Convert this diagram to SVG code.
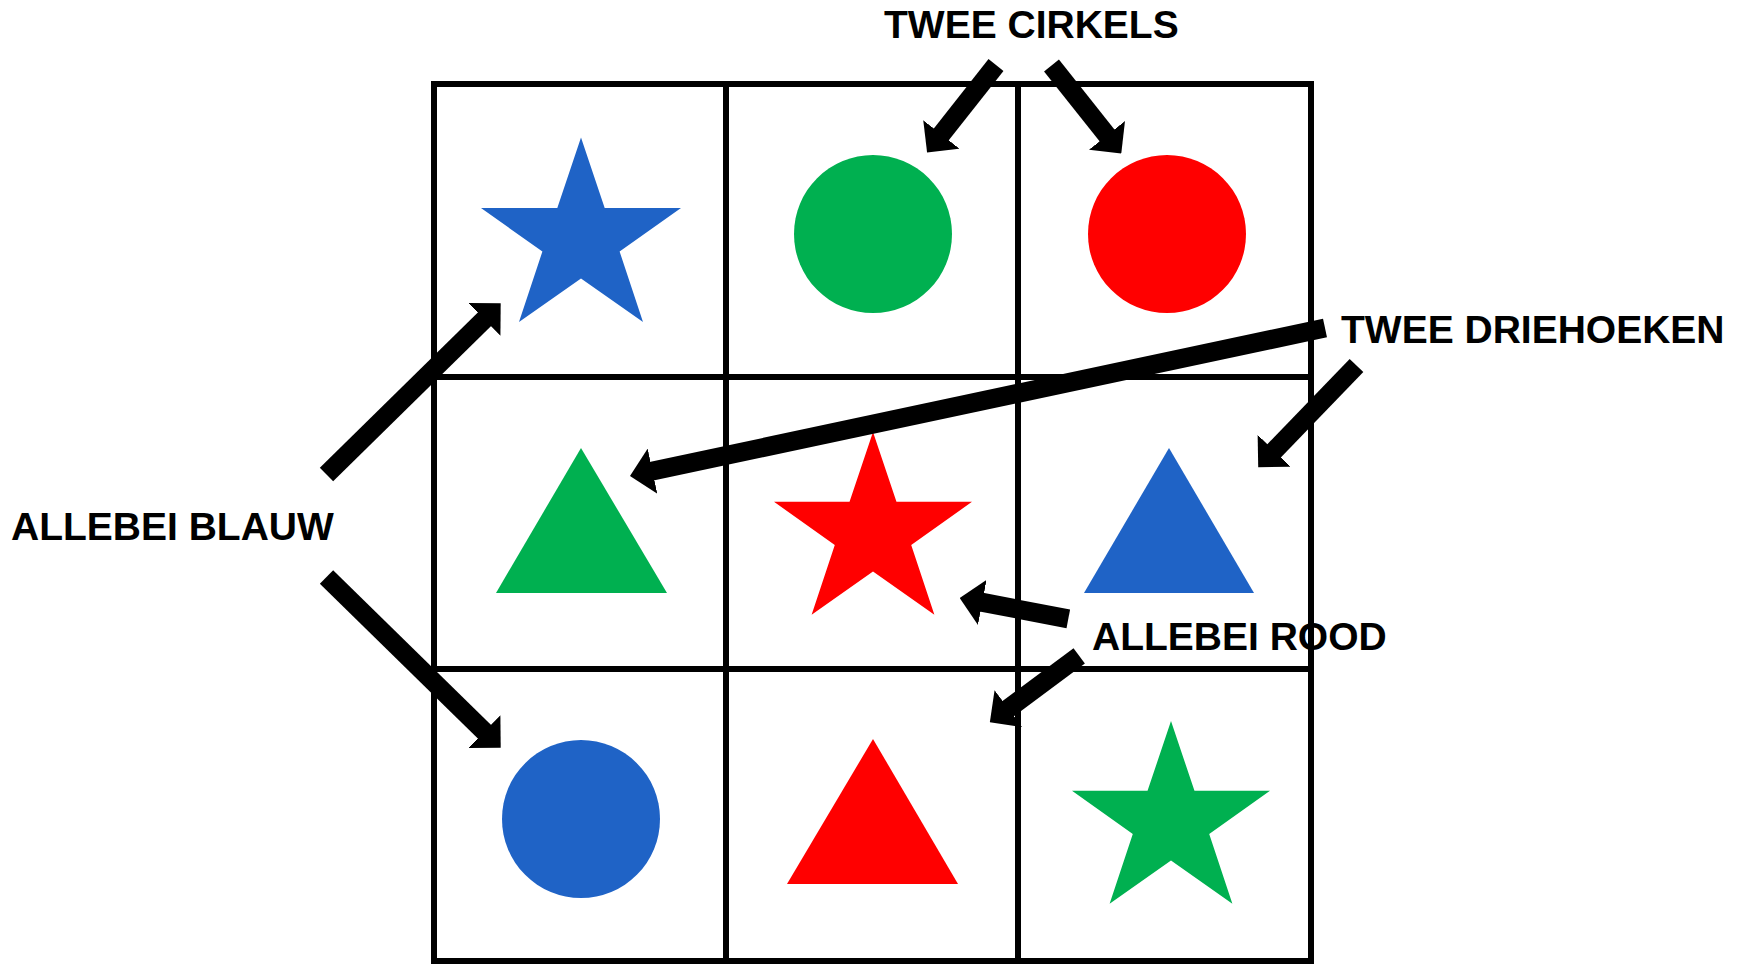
<svg xmlns="http://www.w3.org/2000/svg" width="1739" height="964" viewBox="0 0 1739 964">
<style>
.grid{fill:none;stroke:#000;stroke-width:6}
.blue{fill:#1F63C6}
.green{fill:#00B050}
.red{fill:#FF0000}
.arr{stroke:#000;stroke-width:19;fill:none;stroke-linecap:butt;marker-end:url(#head)}
.lbl{font-family:"Liberation Sans",Arial,sans-serif;font-weight:bold;font-size:39px;fill:#000}
</style>
<defs>
<marker id="head" markerUnits="userSpaceOnUse" markerWidth="23" markerHeight="46" viewBox="0 0 23 46" refX="1" refY="23" orient="auto">
<path d="M0,0 L23,23 L0,46 z" fill="#000"/>
</marker>
<polygon id="star" points="0,-102 23.7,-31.5 100,-31.5 38.6,12 62,82.5 0,39 -62,82.5 -38.6,12 -100,-31.5 -23.7,-31.5"/>
</defs>
<rect width="1739" height="964" fill="#fff"/>
<g id="grid">
<rect class="grid" x="434" y="84" width="877" height="877"/>
<line class="grid" x1="726" y1="84" x2="726" y2="961"/>
<line class="grid" x1="1018" y1="84" x2="1018" y2="961"/>
<line class="grid" x1="434" y1="377" x2="1311" y2="377"/>
<line class="grid" x1="434" y1="669" x2="1311" y2="669"/>
</g>
<g id="blue-star"><use href="#star" class="blue" transform="translate(581,239.5)"/></g>
<g id="green-circle"><circle class="green" cx="873" cy="234" r="79"/></g>
<g id="red-circle"><circle class="red" cx="1167" cy="234" r="79"/></g>
<g id="green-triangle"><polygon class="green" points="581,448 667,593 496,593"/></g>
<g id="red-star"><use href="#star" class="red" transform="translate(873,533) scale(0.99)"/></g>
<g id="blue-triangle"><polygon class="blue" points="1169,448 1254,593 1084,593"/></g>
<g id="blue-circle"><circle class="blue" cx="581" cy="819" r="79"/></g>
<g id="red-triangle"><polygon class="red" points="873,739 958,884 787,884"/></g>
<g id="green-star"><use href="#star" class="green" transform="translate(1171,822) scale(0.99)"/></g>
<g id="label-twee-cirkels"><text class="lbl" x="884" y="38">TWEE CIRKELS</text></g>
<g id="label-allebei-blauw"><text class="lbl" x="11" y="540">ALLEBEI BLAUW</text></g>
<g id="label-twee-driehoeken"><text class="lbl" x="1341" y="343">TWEE DRIEHOEKEN</text></g>
<g id="label-allebei-rood"><text class="lbl" x="1092" y="650">ALLEBEI ROOD</text></g>
<g id="connectors">
<line class="arr" x1="326.5" y1="474.5" x2="485" y2="318.7"/>
<line class="arr" x1="326.5" y1="577" x2="485" y2="732.3"/>
<line class="arr" x1="996" y1="65" x2="940.7" y2="135.2"/>
<line class="arr" x1="1051.5" y1="65.5" x2="1107.6" y2="136.2"/>
<line class="arr" x1="1325" y1="328" x2="651.5" y2="471.3"/>
<line class="arr" x1="1356.5" y1="365.5" x2="1273.5" y2="451.5"/>
<line class="arr" x1="1068.3" y1="618.8" x2="981.3" y2="602.2"/>
<line class="arr" x1="1079.2" y1="655.8" x2="1007.5" y2="709.2"/>
</g>
</svg>
